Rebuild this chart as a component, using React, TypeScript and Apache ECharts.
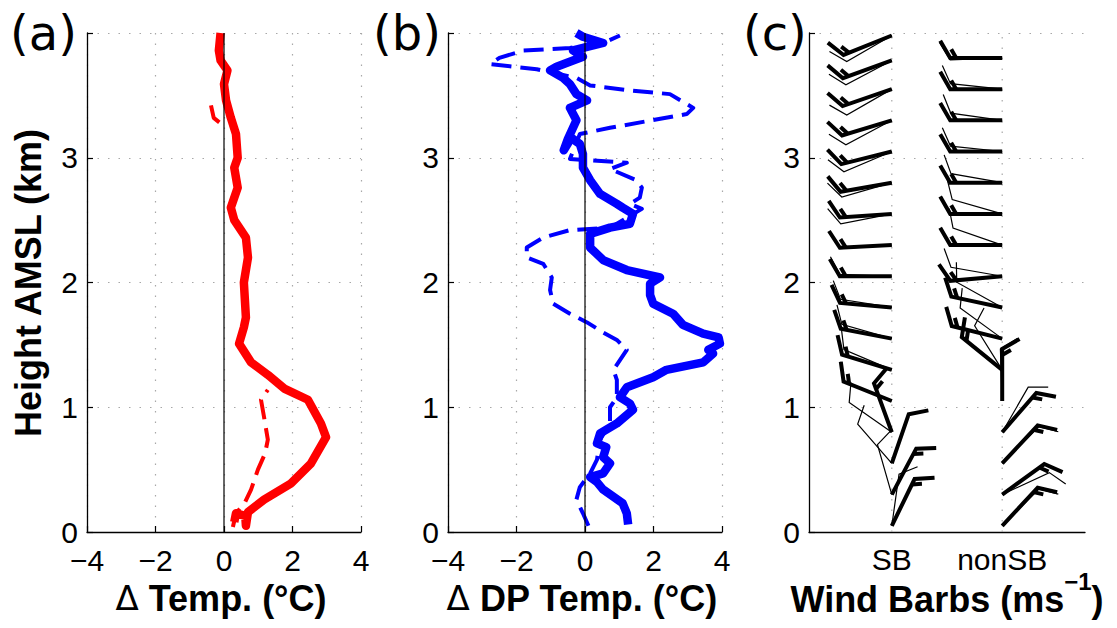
import React, { useEffect, useRef } from 'react';
import * as echarts from 'echarts';

// ---------- Panel (a): Δ Temp. (°C) vs height (km) ----------
const tempSolid: number[][] = [
  [0.3, 0.08], [0.35, 0.15], [0.62, 0.13], [0.64, 0.05], [0.7, 0.16], [1.17, 0.26], [1.96, 0.39],
  [2.54, 0.55], [2.98, 0.76], [2.83, 0.87], [2.45, 1.06], [1.76, 1.15], [1.28, 1.26], [0.79, 1.36],
  [0.44, 1.51], [0.58, 1.64], [0.64, 1.72], [0.58, 2.0], [0.7, 2.2], [0.64, 2.36], [0.3, 2.5],
  [0.2, 2.6], [0.4, 2.76], [0.3, 2.92], [0.4, 3.0], [0.35, 3.19], [0.2, 3.32], [0.06, 3.46],
  [0.0, 3.59], [0.1, 3.7], [-0.1, 3.78], [-0.15, 3.86], [-0.1, 4.0],
];
const tempDashedLow: number[][] = [
  [0.26, 0.04], [0.35, 0.15], [0.6, 0.23], [0.79, 0.34], [0.99, 0.5], [1.2, 0.63], [1.28, 0.74],
  [1.17, 0.92], [1.08, 1.06], [1.28, 1.14],
];
const tempDashedHigh: number[][] = [[-0.38, 3.42], [-0.3, 3.32], [0.06, 3.24]];

// ---------- Panel (b): Δ DP Temp. (°C) vs height (km) ----------
const dpSolid: number[][] = [
  [1.26, 0.06], [1.22, 0.15], [1.1, 0.23], [0.53, 0.34], [0.35, 0.4], [0.15, 0.44], [0.53, 0.47],
  [0.73, 0.55], [0.53, 0.6], [0.62, 0.68], [0.35, 0.71], [0.44, 0.79], [0.93, 0.87], [1.4, 0.98],
  [1.31, 1.03], [1.02, 1.08], [1.22, 1.16], [1.99, 1.24], [2.38, 1.3], [3.45, 1.36], [3.74, 1.43],
  [3.6, 1.46], [3.94, 1.51], [3.9, 1.56], [3.45, 1.59], [2.86, 1.66], [2.57, 1.75], [1.99, 1.83],
  [1.9, 1.9], [1.9, 1.99], [2.19, 2.04], [1.22, 2.1], [0.53, 2.18], [0.15, 2.28], [0.15, 2.39],
  [0.73, 2.44], [1.31, 2.47], [1.4, 2.55], [1.1, 2.6], [0.93, 2.63], [0.44, 2.71], [0.15, 2.82],
  [-0.06, 2.92], [-0.06, 3.03], [-0.15, 3.11], [-0.4, 3.16], [-0.62, 3.06], [-0.5, 3.15],
  [-0.25, 3.3], [-0.44, 3.4], [0.06, 3.46], [-0.25, 3.51], [-0.44, 3.59], [-0.64, 3.64],
  [-1.02, 3.7], [-0.83, 3.73], [-0.06, 3.81], [-0.35, 3.86], [0.53, 3.92], [-0.06, 3.97], [-0.25, 4.0],
];
const dpDashed: number[][] = [
  [0.1, 0.05], [-0.06, 0.15], [-0.25, 0.26], [-0.15, 0.36], [0.15, 0.47], [0.35, 0.58], [0.44, 0.74],
  [0.73, 0.87], [0.73, 1.0], [0.93, 1.08], [0.93, 1.22], [0.83, 1.3], [1.22, 1.46], [0.93, 1.54],
  [0.53, 1.6], [0.06, 1.68], [-0.44, 1.75], [-0.93, 1.83], [-1.02, 1.94], [-0.97, 2.04], [-1.22, 2.15],
  [-1.7, 2.2], [-1.7, 2.28], [-1.22, 2.36], [-0.44, 2.42], [0.73, 2.44], [1.66, 2.59], [1.31, 2.63],
  [1.6, 2.68], [1.66, 2.76], [1.5, 2.82], [0.73, 2.91], [1.22, 2.96], [-0.44, 2.99], [-0.15, 3.19],
  [0.73, 3.24], [2.97, 3.35], [3.16, 3.4], [2.48, 3.51], [1.31, 3.54], [0.15, 3.58], [-0.25, 3.64],
  [-1.41, 3.71], [-2.77, 3.75], [-2.5, 3.8], [-1.8, 3.86], [-0.44, 3.88], [0.53, 3.92], [1.02, 3.98],
];
const zeroLine: number[][] = [[0, 0], [0, 4]];

// ---------- Panel (c): wind barbs ----------
const barbColumnX = [3, 7];
const barbColumnNames = ['SB', 'nonSB'];
const sbHeights = [0.05, 0.3, 0.55, 0.8, 1.05, 1.3, 1.55, 1.8, 2.05, 2.3, 2.55, 2.8, 3.05, 3.3, 3.55, 3.78, 3.98];
const sbMeanDir = [26, 28, 19, 340, 292, 287, 281, 275, 270, 267, 266, 260, 256, 253, 251, 250, 248];
const sbMeanSpeed = [15, 15, 10, 15, 15, 15, 15, 15, 15, 15, 15, 15, 15, 15, 15, 15, 15];
const sbIndivDir = [8, 344, 319, 305, 292, 293, 286, 279, 272, 266, 259, 254, 247, 242, 240, 242, 240];
const sbIndivSpeed = [10, 10, 10, 10, 10, 10, 10, 10, 10, 10, 10, 10, 10, 10, 10, 10, 10];
const nonSbHeights = [0.05, 0.3, 0.55, 0.8, 1.05, 1.3, 1.55, 1.8, 2.05, 2.3, 2.55, 2.8, 3.05, 3.3, 3.55, 3.8];
const nonSbMeanDir = [43, 54, 43, 41, 0, 309, 284, 282, 265, 270, 270, 270, 270, 270, 270, 270];
const nonSbMeanSpeed = [15, 15, 15, 15, 15, 15, 15, 15, 15, 15, 15, 15, 15, 15, 15, 15];
const nonSbIndivDir = [45, 65, 45, 30, 358, 328, 306, 299, 280, 289, 286, 280, 276, 278, 276, 268];
const nonSbIndivSpeed = [10, 10, 10, 10, 10, 10, 10, 10, 10, 10, 10, 10, 10, 10, 10, 10];

const FONT = 'Liberation Sans';
const gridLine = { color: '#a8a8a8', type: [1.5, 9] as any, width: 1.2 };

function makeBarbRenderer(lw: number) {
  return (params: any, api: any) => {
    const base = api.coord([api.value(0), api.value(1)]);
    const dir = (api.value(2) * Math.PI) / 180;
    const speed = api.value(3);
    const staff = 52, feather = 20, gap = 6;
    const ux = Math.sin(dir), uy = -Math.cos(dir);
    const fx = Math.sin(dir + Math.PI / 3), fy = -Math.cos(dir + Math.PI / 3);
    const tail = [base[0] + staff * ux, base[1] + staff * uy];
    const full = Math.floor(speed / 10);
    const half = speed - full * 10 >= 5 ? 1 : 0;
    const style = { stroke: '#000', lineWidth: lw, fill: 'none', lineJoin: 'miter' };
    const children: any[] = [];
    const main: number[][] = [base, tail];
    if (full > 0) main.push([tail[0] + feather * fx, tail[1] + feather * fy]);
    children.push({ type: 'polyline', shape: { points: main }, style });
    for (let i = 1; i < full; i++) {
      const p = [tail[0] - i * gap * ux, tail[1] - i * gap * uy];
      children.push({ type: 'line', shape: { x1: p[0], y1: p[1], x2: p[0] + feather * fx, y2: p[1] + feather * fy }, style });
    }
    if (half) {
      const k = full === 0 ? 1 : full;
      const p = [tail[0] - k * gap * ux, tail[1] - k * gap * uy];
      children.push({ type: 'line', shape: { x1: p[0], y1: p[1], x2: p[0] + (feather / 2) * fx, y2: p[1] + (feather / 2) * fy }, style });
    }
    return { type: 'group', children };
  };
}

const valueXAxis = (gridIndex: number) => ({
  gridIndex,
  type: 'value',
  min: -4,
  max: 4,
  interval: 2,
  axisLine: { show: true, onZero: false, lineStyle: { color: '#000', width: 1.3 } },
  axisTick: { show: true, inside: true, length: 6, lineStyle: { color: '#000', width: 1.2 } },
  axisLabel: {
    formatter: (v: number) => String(v).replace('-', '\u2212'),
    fontSize: 30,
    fontFamily: FONT,
    color: '#000',
    margin: 13,
  },
  splitLine: { show: true, lineStyle: gridLine },
});

const heightYAxis = (gridIndex: number) => ({
  gridIndex,
  type: 'value',
  min: 0,
  max: 4,
  interval: 1,
  axisLine: { show: true, onZero: false, lineStyle: { color: '#000', width: 1.3 } },
  axisTick: { show: true, inside: true, length: 6, lineStyle: { color: '#000', width: 1.2 } },
  axisLabel: {
    formatter: (v: number) => (v === 4 ? '' : String(v)),
    fontSize: 30,
    fontFamily: FONT,
    color: '#000',
    margin: 9,
  },
  splitLine: { show: true, lineStyle: gridLine },
});

const profileLine = (name: string, data: number[][], idx: number, color: string, width: number, dashed: boolean) => ({
  name,
  type: 'line',
  xAxisIndex: idx,
  yAxisIndex: idx,
  data,
  symbol: 'none',
  smooth: false,
  z: dashed ? 3 : 2,
  lineStyle: { color, width, type: dashed ? ([20, 9] as any) : 'solid', join: 'round', cap: 'butt' },
});

const titleText = (x: number, y: number, text: string) => ({
  type: 'text',
  x,
  y,
  style: {
    text,
    fontSize: 36,
    fontWeight: 'bold',
    fontFamily: FONT,
    fill: '#000',
    align: 'center',
    verticalAlign: 'middle',
    rich: {
      d: { fontSize: 34, fontWeight: 'normal', fontFamily: 'DejaVu Sans', fill: '#000' },
      b: { fontSize: 36, fontWeight: 'bold', fontFamily: FONT, fill: '#000', verticalAlign: 'bottom', padding: [12, 0, 0, 0] },
      s: { fontSize: 24, fontWeight: 'bold', fontFamily: FONT, fill: '#000', verticalAlign: 'top' },
    },
  },
});

const panelLabel = (x: number, text: string) => ({
  type: 'text',
  x,
  y: 33,
  style: { text, fontSize: 48, fontFamily: 'DejaVu Sans', fill: '#000', align: 'left', verticalAlign: 'middle' },
});

export default function App() {
  const ref = useRef<HTMLDivElement>(null);
  useEffect(() => {
    if (!ref.current) return;
    const chart = echarts.init(ref.current, undefined, { renderer: 'svg' });
    const sbMean = sbHeights.map((h, i) => [barbColumnX[0], h, sbMeanDir[i], sbMeanSpeed[i]]);
    const sbIndiv = sbHeights.map((h, i) => [barbColumnX[0], h, sbIndivDir[i], sbIndivSpeed[i]]);
    const nsMean = nonSbHeights.map((h, i) => [barbColumnX[1], h, nonSbMeanDir[i], nonSbMeanSpeed[i]]);
    const nsIndiv = nonSbHeights.map((h, i) => [barbColumnX[1], h, nonSbIndivDir[i], nonSbIndivSpeed[i]]);

    const option: any = {
      animation: false,
      backgroundColor: '#fff',
      grid: [
        { left: 87, top: 33, width: 274, height: 499 },
        { left: 448, top: 33, width: 274, height: 499 },
        { left: 809, top: 33, width: 276, height: 499 },
      ],
      xAxis: [
        valueXAxis(0),
        valueXAxis(1),
        {
          gridIndex: 2,
          type: 'value',
          min: 0,
          max: 10,
          interval: 1,
          axisLine: { show: true, onZero: false, lineStyle: { color: '#000', width: 1.3 } },
          axisTick: { show: false },
          axisLabel: {
            formatter: (v: number) => {
              const k = barbColumnX.indexOf(v);
              return k >= 0 ? barbColumnNames[k] : '';
            },
            fontSize: 30,
            fontFamily: FONT,
            color: '#000',
            margin: 12,
          },
          splitLine: { show: false },
        },
      ],
      yAxis: [heightYAxis(0), heightYAxis(1), heightYAxis(2)],
      series: [
        profileLine('tempSolid', tempSolid, 0, '#ff0000', 8.5, false),
        profileLine('tempDashedLow', tempDashedLow, 0, '#ff0000', 4, true),
        profileLine('tempDashedHigh', tempDashedHigh, 0, '#ff0000', 4, true),
        { type: 'line', xAxisIndex: 0, yAxisIndex: 0, data: zeroLine, symbol: 'none', z: 5, lineStyle: { color: '#000', width: 1.2 } },
        profileLine('dpSolid', dpSolid, 1, '#0000ff', 8.5, false),
        profileLine('dpDashed', dpDashed, 1, '#0000ff', 4, true),
        { type: 'line', xAxisIndex: 1, yAxisIndex: 1, data: zeroLine, symbol: 'none', z: 5, lineStyle: { color: '#000', width: 1.2 } },
        ...barbColumnX.map((x) => ({
          type: 'line',
          xAxisIndex: 2,
          yAxisIndex: 2,
          data: [[x, 0], [x, 4]],
          symbol: 'none',
          z: 1,
          lineStyle: gridLine,
        })),
        {
          type: 'custom', xAxisIndex: 2, yAxisIndex: 2, data: sbIndiv, encode: { x: 0, y: 1 },
          renderItem: makeBarbRenderer(1.2), clip: false, z: 3,
        },
        {
          type: 'custom', xAxisIndex: 2, yAxisIndex: 2, data: nsIndiv, encode: { x: 0, y: 1 },
          renderItem: makeBarbRenderer(1.2), clip: false, z: 3,
        },
        {
          type: 'custom', xAxisIndex: 2, yAxisIndex: 2, data: sbMean, encode: { x: 0, y: 1 },
          renderItem: makeBarbRenderer(4), clip: false, z: 4,
        },
        {
          type: 'custom', xAxisIndex: 2, yAxisIndex: 2, data: nsMean, encode: { x: 0, y: 1 },
          renderItem: makeBarbRenderer(4), clip: false, z: 4,
        },
      ],
      graphic: [
        panelLabel(10, '(a)'),
        panelLabel(373, '(b)'),
        panelLabel(743, '(c)'),
        titleText(221, 598, '{d|\u0394} Temp. (\u00B0C)'),
        titleText(582, 598, '{d|\u0394} DP Temp. (\u00B0C)'),
        titleText(947, 593, '{b|Wind Barbs (ms}{s|\u22121}{b|)}'),
        { ...titleText(28, 283, 'Height AMSL (km)'), rotation: Math.PI / 2 },
      ],
    };
    chart.setOption(option);
    return () => chart.dispose();
  }, []);
  return (
    <div
      ref={ref}
      style={{ position: 'fixed', left: 0, top: 0, width: 1117, height: 628, background: '#fff' }}
    />
  );
}
